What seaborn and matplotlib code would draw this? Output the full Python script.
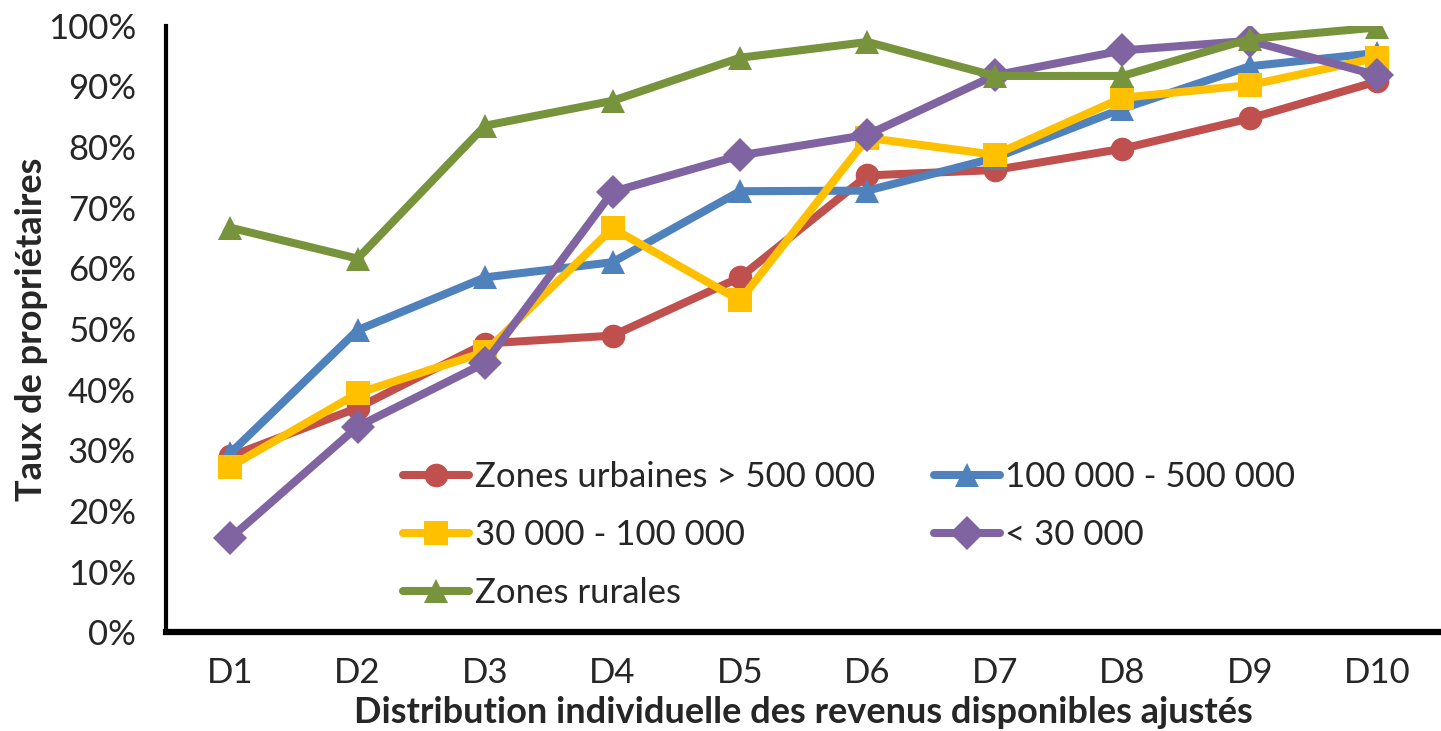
import numpy as np
import pandas as pd
import seaborn as sns
import matplotlib.pyplot as plt
from matplotlib.ticker import PercentFormatter

# Deciles and ownership rates (%)
deciles = ['D1', 'D2', 'D3', 'D4', 'D5', 'D6', 'D7', 'D8', 'D9', 'D10']
urbain_500k = [29, 37, 47.6, 48.9, 58.5, 75.3, 76.2, 79.7, 84.7, 90.8]
de_100k_500k = [29.5, 49.8, 58.5, 61, 72.7, 72.8, 78.2, 86.3, 93.3, 95.5]
de_30k_100k = [27.3, 39.4, 46.2, 66.6, 54.7, 81.5, 78.7, 88.1, 90.2, 94.7]
moins_30k = [15.5, 33.9, 44.4, 72.6, 78.6, 82, 91.8, 95.9, 97.5, 91.8]
rural = [66.7, 61.6, 83.5, 87.6, 94.7, 97.3, 91.7, 91.7, 97.8, 99.7]

zones = ['Zones urbaines > 500 000', '100 000 - 500 000', '30 000 - 100 000',
         '< 30 000', 'Zones rurales']
series = [urbain_500k, de_100k_500k, de_30k_100k, moins_30k, rural]
colors = ['#C0504D', '#4F81BD', '#FFC000', '#8064A2', '#77933C']
markers = ['o', '^', 's', 'D', '^']

df = pd.concat([pd.DataFrame({'decile': deciles, 'taux': v, 'zone': z})
                for z, v in zip(zones, series)], ignore_index=True)

sns.set_style('white')
plt.rcParams['font.family'] = ['Lato', 'DejaVu Sans']

fig = plt.figure(figsize=(14.41, 7.31), dpi=100)
ax = fig.add_axes([0.1155, 0.135, 0.8845, 0.830])

sns.lineplot(data=df, x='decile', y='taux', hue='zone', style='zone',
             hue_order=zones, style_order=zones, palette=colors,
             markers=markers, dashes=False, linewidth=5.8, markersize=17,
             markeredgewidth=0, ax=ax)

ax.set_ylim(0, 100)
ax.set_xlim(-0.5, 9.5)
ax.set_yticks(np.arange(0, 101, 10))
ax.yaxis.set_major_formatter(PercentFormatter(decimals=0))
ax.set_xticks(np.arange(-0.5, 10, 1), minor=False)
ax.set_xticklabels([])
ax.set_xticks(np.arange(10), minor=True)
ax.set_xticklabels(deciles, minor=True)
ax.tick_params(axis='x', which='major', direction='out', length=10, width=3, color='black')
ax.tick_params(axis='x', which='minor', length=0, labelsize=25, pad=18)
ax.tick_params(axis='y', direction='out', length=8, width=3, color='black', labelsize=25, pad=14)

for side in ['top', 'right']:
    ax.spines[side].set_visible(False)
ax.spines['left'].set_linewidth(3)
ax.spines['bottom'].set_linewidth(4.5)
ax.spines['left'].set_color('black')
ax.spines['bottom'].set_color('black')

ax.set_xlabel('Distribution individuelle des revenus disponibles ajustés',
              fontsize=26, fontweight='bold', labelpad=5)
ax.set_ylabel('Taux de propriétaires', fontsize=26, fontweight='bold', labelpad=0)

handles, labels = ax.get_legend_handles_labels()
order = [0, 2, 4, 1, 3]
ax.legend([handles[i] for i in order], [labels[i] for i in order], ncol=2,
          frameon=False, fontsize=25, loc='upper left',
          bbox_to_anchor=(0.175, 0.305), handlelength=1.9, handletextpad=0.15,
          columnspacing=1.7, labelspacing=0.75, borderaxespad=0)

fig.savefig('out.png', dpi=100)
